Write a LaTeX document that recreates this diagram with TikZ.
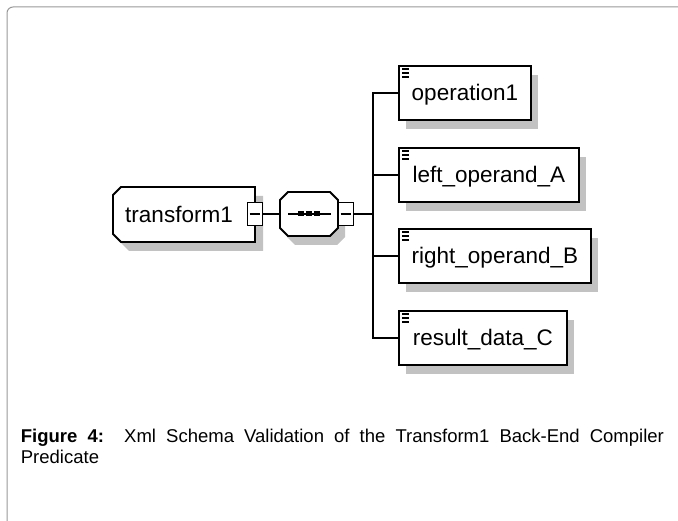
\documentclass[tikz,border=0pt]{standalone}
\usepackage{fontspec}
\setmainfont{Liberation Sans}
\usetikzlibrary{shadows}
\newcommand\bxfont{\fontsize{22.5}{26}\selectfont}
\newcommand\cpfont{\fontsize{18.5}{21}\selectfont}
\begin{document}
\begin{tikzpicture}[x=1pt,y=-1pt,
  line width=1.8pt,
  elem/.style={draw=black, fill=white, anchor=west, inner sep=0pt,
    text height=35pt, text depth=19pt, font=\bxfont,
    drop shadow={shadow xshift=7pt, shadow yshift=-9pt, fill=black!24, opacity=1}},
  minusbox/.style={draw=black, fill=white, line width=1.6pt,
    minimum width=15pt, minimum height=23pt, inner sep=0pt},
  wire/.style={draw=black, line width=2pt},
  shade/.style={fill=black!24, draw=none},
  frame/.style={draw=black!40, line width=1pt}]
\useasboundingbox (0,0) rectangle (678,521);
\fill[white] (0,0) rectangle (678,521);
\draw[frame, rounded corners=6pt] (678,7) -- (7,7) -- (7,521);

% transform1 element
\fill[shade, shift={(8,9)}] (121,187) -- (255,187) -- (255,242) -- (121,242) -- (113,234) -- (113,195) -- cycle;
\draw[fill=white] (121,187) -- (255,187) -- (255,242) -- (121,242) -- (113,234) -- (113,195) -- cycle;
\node[inner sep=0pt, font=\bxfont] (tr) at (179,214.5) {transform1};

% sequence compositor
\fill[shade, shift={(7,9)}] (288,192) -- (330,192) -- (338,200) -- (338,228) -- (330,236) -- (288,236) -- (280,228) -- (280,200) -- cycle;
\draw[fill=white] (288,192) -- (330,192) -- (338,200) -- (338,228) -- (330,236) -- (288,236) -- (280,228) -- (280,200) -- cycle;
\node[inner sep=0pt, minimum width=58pt, minimum height=44pt] (seq) at (309,214) {};
\draw[line width=1.6pt] (288,214) -- (331,214);
\fill (298,211.5) rectangle (304,216.5);
\fill (306,211.5) rectangle (312,216.5);
\fill (314,211.5) rectangle (320,216.5);

% child elements
\node[elem, minimum width=132pt] (op) at (398,93) {operation1};
\node[elem, minimum width=180pt] (la) at (398,175) {left\_operand\_A};
\node[elem, minimum width=192pt] (rb) at (398,256) {right\_operand\_B};
\node[elem, minimum width=168pt] (rc) at (398,338) {result\_data\_C};
\foreach \n in {op,la,rb,rc}{
  \foreach \d in {4,8,12}{
    \draw[line width=1.5pt] ([xshift=4pt,yshift=-\d pt]\n.north west) -- ++(7,0);
  }
}

% minus boxes
\node[minusbox] (trm) at (255,214) {};
\draw[line width=1.6pt] ([xshift=3pt]trm.west) -- ([xshift=-3pt]trm.east);
\node[minusbox] (sqm) at (346,214) {};
\draw[line width=1.6pt] ([xshift=3pt]sqm.west) -- ([xshift=-3pt]sqm.east);

% connectors
\coordinate (bus) at (373,214);
\draw[wire] (trm.east) -- (seq.west);
\draw[wire] (sqm.east) -- (bus);
\draw[wire] (bus) |- (op.west);
\draw[wire] (bus) |- (la.west);
\draw[wire] (bus) |- (rb.west);
\draw[wire] (bus) |- (rc.west);

% caption
\node[anchor=north west, inner sep=0pt, text width=643pt, align=justify, font=\cpfont] (cap) at (20,428)
  {\textbf{Figure 4:}\ \ Xml Schema Validation of the Transform1 Back-End Compiler\linebreak Predicate};
\end{tikzpicture}
\end{document}
